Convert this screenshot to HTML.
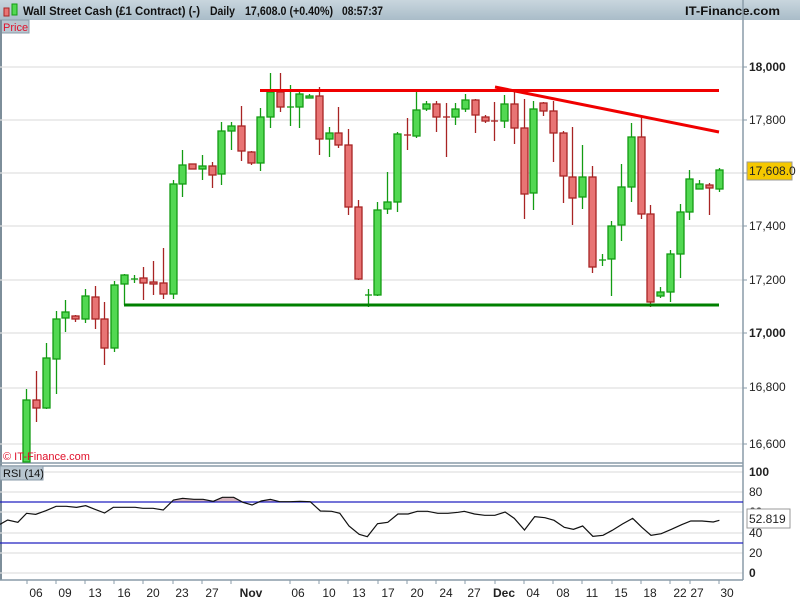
<!DOCTYPE html>
<html><head><meta charset="utf-8"><style>
body{margin:0;width:800px;height:600px;overflow:hidden;background:#fff;font-family:"Liberation Sans",sans-serif}
.g line,.g rect{stroke:#139c13;stroke-width:1.3}
.g rect{fill:#52d852}
.r line,.r rect{stroke:#a82424;stroke-width:1.3}
.r rect{fill:#e87474}
text{font-family:"Liberation Sans",sans-serif}
</style></head><body>
<svg width="800" height="600" xmlns="http://www.w3.org/2000/svg">
<defs><linearGradient id="hd" x1="0" y1="0" x2="0" y2="1"><stop offset="0" stop-color="#c9d6de"/><stop offset="1" stop-color="#a9bcc8"/></linearGradient>
<clipPath id="ob"><rect x="0" y="0" width="2000" height="187"/></clipPath></defs>
<rect x="0" y="0" width="800" height="20" fill="url(#hd)"/>
<rect x="4" y="8" width="5" height="8" fill="#e87474" stroke="#a82424"/>
<rect x="12" y="4" width="5" height="11" fill="#52d852" stroke="#139c13"/>
<g font-size="12" font-weight="bold" fill="#111">
<text x="23" y="15" textLength="177" lengthAdjust="spacingAndGlyphs">Wall Street Cash (£1 Contract) (-)</text>
<text x="210" y="15" textLength="25" lengthAdjust="spacingAndGlyphs">Daily</text>
<text x="245" y="15" textLength="88" lengthAdjust="spacingAndGlyphs">17,608.0 (+0.40%)</text>
<text x="342" y="15" textLength="41" lengthAdjust="spacingAndGlyphs">08:57:37</text>
<text x="685" y="15" textLength="95" lengthAdjust="spacingAndGlyphs">IT-Finance.com</text>
</g>
<rect x="0" y="20" width="29" height="13" fill="#b8c6d0" stroke="#8a9ba8"/>
<text x="3" y="31" font-size="11" fill="#e0102a">Price</text>
<line x1="1" y1="20" x2="1" y2="580" stroke="#7d8e9a" stroke-width="2"/>
<g stroke="#e0e0e0" stroke-width="1.2">
<line x1="0" y1="67" x2="743" y2="67"/><line x1="0" y1="120" x2="743" y2="120"/><line x1="0" y1="173" x2="743" y2="173"/><line x1="0" y1="226" x2="743" y2="226"/><line x1="0" y1="280" x2="743" y2="280"/><line x1="0" y1="333" x2="743" y2="333"/><line x1="0" y1="388" x2="743" y2="388"/><line x1="0" y1="444" x2="743" y2="444"/>
<line x1="0" y1="472" x2="743" y2="472"/><line x1="0" y1="492" x2="743" y2="492"/><line x1="0" y1="512" x2="743" y2="512"/><line x1="0" y1="533" x2="743" y2="533"/><line x1="0" y1="553" x2="743" y2="553"/><line x1="0" y1="573" x2="743" y2="573"/>
</g>
<line x1="0" y1="463" x2="743" y2="463" stroke="#8a9ba8" stroke-width="1.5"/>
<line x1="0" y1="466" x2="743" y2="466" stroke="#8a9ba8" stroke-width="1.5"/>
<line x1="743" y1="0" x2="743" y2="580" stroke="#8a9ba8" stroke-width="1.5"/>
<line x1="0" y1="580" x2="743" y2="580" stroke="#8a9ba8" stroke-width="1.5"/>
<g class="g"><line x1="26.5" y1="389" x2="26.5" y2="462"/><rect x="23" y="400" width="7" height="62"/></g>
<g class="r"><line x1="36.5" y1="371" x2="36.5" y2="422"/><rect x="33" y="400" width="7" height="8"/></g>
<g class="g"><line x1="46.5" y1="343" x2="46.5" y2="409"/><rect x="43" y="358" width="7" height="50"/></g>
<g class="g"><line x1="56.5" y1="311" x2="56.5" y2="394"/><rect x="53" y="319" width="7" height="40"/></g>
<g class="g"><line x1="65.5" y1="300" x2="65.5" y2="332"/><rect x="62" y="312" width="7" height="6"/></g>
<g class="r"><line x1="75.5" y1="315" x2="75.5" y2="322"/><rect x="72" y="316" width="7" height="3"/></g>
<g class="g"><line x1="85.5" y1="289" x2="85.5" y2="323"/><rect x="82" y="296" width="7" height="23"/></g>
<g class="r"><line x1="95.5" y1="286" x2="95.5" y2="329"/><rect x="92" y="297" width="7" height="22"/></g>
<g class="r"><line x1="104.5" y1="302" x2="104.5" y2="365"/><rect x="101" y="319" width="7" height="29"/></g>
<g class="g"><line x1="114.5" y1="281" x2="114.5" y2="352"/><rect x="111" y="285" width="7" height="63"/></g>
<g class="g"><line x1="124.5" y1="274" x2="124.5" y2="305"/><rect x="121" y="275" width="7" height="9"/></g>
<g class="g"><line x1="134.5" y1="275" x2="134.5" y2="283"/><line x1="131" y1="279" x2="138" y2="279"/></g>
<g class="r"><line x1="143.5" y1="267" x2="143.5" y2="300"/><rect x="140" y="278" width="7" height="5"/></g>
<g class="r"><line x1="153.5" y1="261" x2="153.5" y2="295"/><rect x="150" y="282" width="7" height="2"/></g>
<g class="r"><line x1="163.5" y1="248" x2="163.5" y2="299"/><rect x="160" y="283" width="7" height="11"/></g>
<g class="g"><line x1="173.5" y1="180" x2="173.5" y2="299"/><rect x="170" y="184" width="7" height="110"/></g>
<g class="g"><line x1="182.5" y1="150" x2="182.5" y2="197"/><rect x="179" y="165" width="7" height="19"/></g>
<g class="r"><line x1="192.5" y1="164" x2="192.5" y2="169"/><rect x="189" y="164" width="7" height="5"/></g>
<g class="g"><line x1="202.5" y1="155" x2="202.5" y2="180"/><rect x="199" y="166" width="7" height="3"/></g>
<g class="r"><line x1="212.5" y1="162" x2="212.5" y2="188"/><rect x="209" y="166" width="7" height="9"/></g>
<g class="g"><line x1="221.5" y1="122" x2="221.5" y2="185"/><rect x="218" y="131" width="7" height="43"/></g>
<g class="g"><line x1="231.5" y1="122" x2="231.5" y2="150"/><rect x="228" y="126" width="7" height="5"/></g>
<g class="r"><line x1="241.5" y1="106" x2="241.5" y2="161"/><rect x="238" y="126" width="7" height="25"/></g>
<g class="r"><line x1="251.5" y1="151" x2="251.5" y2="165"/><rect x="248" y="152" width="7" height="11"/></g>
<g class="g"><line x1="260.5" y1="108" x2="260.5" y2="171"/><rect x="257" y="117" width="7" height="46"/></g>
<g class="g"><line x1="270.5" y1="73" x2="270.5" y2="128"/><rect x="267" y="92" width="7" height="25"/></g>
<g class="r"><line x1="280.5" y1="73" x2="280.5" y2="112"/><rect x="277" y="92" width="7" height="15"/></g>
<g class="g"><line x1="290.5" y1="85" x2="290.5" y2="126"/><line x1="287" y1="107" x2="294" y2="107"/></g>
<g class="g"><line x1="299.5" y1="92" x2="299.5" y2="128"/><rect x="296" y="94" width="7" height="13"/></g>
<g class="g"><line x1="309.5" y1="94" x2="309.5" y2="98"/><rect x="306" y="96" width="7" height="2"/></g>
<g class="r"><line x1="319.5" y1="87" x2="319.5" y2="155"/><rect x="316" y="96" width="7" height="43"/></g>
<g class="g"><line x1="329.5" y1="127" x2="329.5" y2="157"/><rect x="326" y="133" width="7" height="6"/></g>
<g class="r"><line x1="338.5" y1="107" x2="338.5" y2="148"/><rect x="335" y="133" width="7" height="12"/></g>
<g class="r"><line x1="348.5" y1="129" x2="348.5" y2="215"/><rect x="345" y="145" width="7" height="62"/></g>
<g class="r"><line x1="358.5" y1="200" x2="358.5" y2="280"/><rect x="355" y="207" width="7" height="72"/></g>
<g class="g"><line x1="368.5" y1="289" x2="368.5" y2="307"/><line x1="365" y1="295" x2="372" y2="295"/></g>
<g class="g"><line x1="377.5" y1="202" x2="377.5" y2="296"/><rect x="374" y="210" width="7" height="85"/></g>
<g class="g"><line x1="387.5" y1="172" x2="387.5" y2="214"/><rect x="384" y="202" width="7" height="7"/></g>
<g class="g"><line x1="397.5" y1="132" x2="397.5" y2="212"/><rect x="394" y="134" width="7" height="68"/></g>
<g class="r"><line x1="407.5" y1="118" x2="407.5" y2="150"/><line x1="404" y1="135" x2="411" y2="135"/></g>
<g class="g"><line x1="416.5" y1="92" x2="416.5" y2="138"/><rect x="413" y="110" width="7" height="26"/></g>
<g class="g"><line x1="426.5" y1="101" x2="426.5" y2="111"/><rect x="423" y="104" width="7" height="5"/></g>
<g class="r"><line x1="436.5" y1="101" x2="436.5" y2="132"/><rect x="433" y="104" width="7" height="13"/></g>
<g class="r"><line x1="446.5" y1="103" x2="446.5" y2="157"/><line x1="443" y1="117" x2="450" y2="117"/></g>
<g class="g"><line x1="455.5" y1="103" x2="455.5" y2="125"/><rect x="452" y="109" width="7" height="8"/></g>
<g class="g"><line x1="465.5" y1="94" x2="465.5" y2="112"/><rect x="462" y="100" width="7" height="9"/></g>
<g class="r"><line x1="475.5" y1="99" x2="475.5" y2="133"/><rect x="472" y="100" width="7" height="15"/></g>
<g class="r"><line x1="485.5" y1="115" x2="485.5" y2="123"/><rect x="482" y="117" width="7" height="4"/></g>
<g class="r"><line x1="494.5" y1="102" x2="494.5" y2="141"/><line x1="491" y1="121" x2="498" y2="121"/></g>
<g class="g"><line x1="504.5" y1="95" x2="504.5" y2="128"/><rect x="501" y="104" width="7" height="17"/></g>
<g class="r"><line x1="514.5" y1="92" x2="514.5" y2="144"/><rect x="511" y="104" width="7" height="24"/></g>
<g class="r"><line x1="524.5" y1="99" x2="524.5" y2="219"/><rect x="521" y="128" width="7" height="66"/></g>
<g class="g"><line x1="533.5" y1="101" x2="533.5" y2="210"/><rect x="530" y="109" width="7" height="84"/></g>
<g class="r"><line x1="543.5" y1="102" x2="543.5" y2="116"/><rect x="540" y="103" width="7" height="8"/></g>
<g class="r"><line x1="553.5" y1="101" x2="553.5" y2="162"/><rect x="550" y="111" width="7" height="22"/></g>
<g class="r"><line x1="563.5" y1="131" x2="563.5" y2="203"/><rect x="560" y="133" width="7" height="43"/></g>
<g class="r"><line x1="572.5" y1="127" x2="572.5" y2="225"/><rect x="569" y="177" width="7" height="21"/></g>
<g class="g"><line x1="582.5" y1="145" x2="582.5" y2="209"/><rect x="579" y="177" width="7" height="20"/></g>
<g class="r"><line x1="592.5" y1="166" x2="592.5" y2="273"/><rect x="589" y="177" width="7" height="90"/></g>
<g class="g"><line x1="602.5" y1="254" x2="602.5" y2="266"/><line x1="599" y1="260" x2="606" y2="260"/></g>
<g class="g"><line x1="611.5" y1="221" x2="611.5" y2="296"/><rect x="608" y="226" width="7" height="33"/></g>
<g class="g"><line x1="621.5" y1="164" x2="621.5" y2="241"/><rect x="618" y="187" width="7" height="38"/></g>
<g class="g"><line x1="631.5" y1="123" x2="631.5" y2="202"/><rect x="628" y="137" width="7" height="50"/></g>
<g class="r"><line x1="641.5" y1="117" x2="641.5" y2="219"/><rect x="638" y="137" width="7" height="77"/></g>
<g class="r"><line x1="650.5" y1="205" x2="650.5" y2="307"/><rect x="647" y="214" width="7" height="88"/></g>
<g class="g"><line x1="660.5" y1="287" x2="660.5" y2="298"/><rect x="657" y="292" width="7" height="4"/></g>
<g class="g"><line x1="670.5" y1="250" x2="670.5" y2="302"/><rect x="667" y="254" width="7" height="38"/></g>
<g class="g"><line x1="680.5" y1="204" x2="680.5" y2="278"/><rect x="677" y="212" width="7" height="42"/></g>
<g class="g"><line x1="689.5" y1="170" x2="689.5" y2="220"/><rect x="686" y="179" width="7" height="33"/></g>
<g class="g"><line x1="699.5" y1="180" x2="699.5" y2="189"/><rect x="696" y="184" width="7" height="5"/></g>
<g class="r"><line x1="709.5" y1="183" x2="709.5" y2="215"/><rect x="706" y="185" width="7" height="3"/></g>
<g class="g"><line x1="719.5" y1="168" x2="719.5" y2="192"/><rect x="716" y="170" width="7" height="19"/></g>
<line x1="260" y1="90.5" x2="719" y2="90.5" stroke="#f00000" stroke-width="3"/>
<line x1="495" y1="87" x2="719" y2="132" stroke="#f00000" stroke-width="3"/>
<line x1="124" y1="305" x2="719" y2="305" stroke="#008000" stroke-width="3"/>
<text x="3" y="460" font-size="11" fill="#e0102a">© IT-Finance.com</text>
<g font-size="12" fill="#222">
<text x="749" y="71" font-weight="bold">18,000</text>
<text x="749" y="124">17,800</text>
<text x="749" y="230">17,400</text>
<text x="749" y="284">17,200</text>
<text x="749" y="337" font-weight="bold">17,000</text>
<text x="749" y="391">16,800</text>
<text x="749" y="448">16,600</text>
</g>
<g stroke="#8a9ba8"><line x1="743" y1="67" x2="747" y2="67"/><line x1="743" y1="120" x2="747" y2="120"/><line x1="743" y1="173" x2="747" y2="173"/><line x1="743" y1="226" x2="747" y2="226"/><line x1="743" y1="280" x2="747" y2="280"/><line x1="743" y1="333" x2="747" y2="333"/><line x1="743" y1="388" x2="747" y2="388"/><line x1="743" y1="444" x2="747" y2="444"/></g>
<rect x="747" y="162" width="45" height="18" fill="#f5c800" stroke="#999"/>
<text x="749" y="175" font-size="12" fill="#222">17,608.0</text>
<rect x="0" y="466" width="43" height="14" fill="#b8c6d0" stroke="#8a9ba8"/>
<text x="3" y="477" font-size="11" fill="#111">RSI (14)</text>
<g transform="translate(0,440) scale(0.5102,0.33333)">
<polygon clip-path="url(#ob)" fill="#d6b4bc" points="320,210 340,180 358,175 380,178 398,178 418,184 436,172 458,172 476,187 494,195 512,183 530,178 548,185 568,185 588,184 608,185 628,213 628,300 320,300"/>
</g>
<line x1="0" y1="502" x2="743" y2="502" stroke="#2020c0" stroke-width="1.2"/>
<line x1="0" y1="543" x2="743" y2="543" stroke="#2020c0" stroke-width="1.2"/>
<g transform="translate(0,440) scale(0.5102,0.33333)">
<polyline vector-effect="non-scaling-stroke" fill="none" stroke="#111" stroke-width="1.2" points="0,253 15,240 35,247 52,220 70,223 90,212 110,199 130,199 150,202 168,197 186,208 205,219 222,202 265,202 280,205 300,205 320,210 340,180 358,175 380,178 398,178 418,184 436,172 458,172 476,187 494,195 512,183 530,178 548,185 568,185 588,184 608,185 628,213 650,214 666,220 684,258 704,283 720,290 740,251 760,247 780,222 800,222 818,214 838,214 858,220 878,220 898,217 910,214 930,222 950,226 970,226 990,216 1008,235 1028,270 1048,230 1068,233 1086,241 1106,262 1124,268 1142,258 1162,289 1182,286 1200,271 1220,252 1240,235 1258,262 1276,286 1296,281 1316,268 1336,254 1354,243 1376,243 1398,246 1410,241"/>
</g>
<g font-size="12" fill="#222">
<text x="749" y="476" font-weight="bold">100</text>
<text x="749" y="496">80</text>
<text x="749" y="516">60</text>
<text x="749" y="537">40</text>
<text x="749" y="557">20</text>
<text x="749" y="577" font-weight="bold">0</text>
</g>
<rect x="747" y="509" width="43" height="19" fill="#fff" stroke="#999"/>
<text x="749" y="523" font-size="12" fill="#222">52.819</text>
<g font-size="12" fill="#222" text-anchor="middle">
<text x="36" y="597">06</text><text x="65" y="597">09</text><text x="95" y="597">13</text><text x="124" y="597">16</text><text x="153" y="597">20</text><text x="182" y="597">23</text><text x="212" y="597">27</text><text x="251" y="597" font-weight="bold">Nov</text><text x="298" y="597">06</text><text x="329" y="597">10</text><text x="359" y="597">13</text><text x="388" y="597">17</text><text x="417" y="597">20</text><text x="446" y="597">24</text><text x="474" y="597">27</text><text x="504" y="597" font-weight="bold">Dec</text><text x="533" y="597">04</text><text x="563" y="597">08</text><text x="592" y="597">11</text><text x="621" y="597">15</text><text x="650" y="597">18</text><text x="680" y="597">22</text><text x="697" y="597">27</text><text x="727" y="597">30</text>
</g>
<g stroke="#8a9ba8"><line x1="27" y1="580" x2="27" y2="584"/><line x1="56" y1="580" x2="56" y2="584"/><line x1="85" y1="580" x2="85" y2="584"/><line x1="114" y1="580" x2="114" y2="584"/><line x1="143" y1="580" x2="143" y2="584"/><line x1="173" y1="580" x2="173" y2="584"/><line x1="202" y1="580" x2="202" y2="584"/><line x1="231" y1="580" x2="231" y2="584"/><line x1="290" y1="580" x2="290" y2="584"/><line x1="319" y1="580" x2="319" y2="584"/><line x1="348" y1="580" x2="348" y2="584"/><line x1="378" y1="580" x2="378" y2="584"/><line x1="407" y1="580" x2="407" y2="584"/><line x1="436" y1="580" x2="436" y2="584"/><line x1="465" y1="580" x2="465" y2="584"/><line x1="495" y1="580" x2="495" y2="584"/><line x1="524" y1="580" x2="524" y2="584"/><line x1="553" y1="580" x2="553" y2="584"/><line x1="582" y1="580" x2="582" y2="584"/><line x1="612" y1="580" x2="612" y2="584"/><line x1="641" y1="580" x2="641" y2="584"/><line x1="670" y1="580" x2="670" y2="584"/><line x1="690" y1="580" x2="690" y2="584"/><line x1="719" y1="580" x2="719" y2="584"/></g>
</svg>
</body></html>
